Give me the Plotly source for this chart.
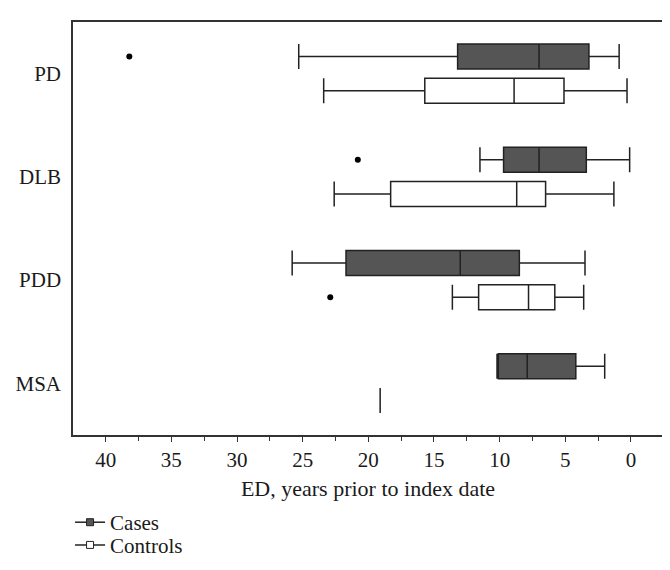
import plotly.graph_objects as go

# ---------------- data ----------------
categories = ["PD", "DLB", "PDD", "MSA"]

# Cases: years prior to index date
cases_min = [0.9, 0.1, 3.5, 2.0]
cases_q1 = [3.2, 3.4, 8.5, 4.2]
cases_median = [7.0, 7.0, 13.0, 7.9]
cases_q3 = [13.2, 9.7, 21.7, 10.1]
cases_max = [25.3, 11.5, 25.8, 10.2]
cases_outlier_cat = ["PD", "DLB"]
cases_outlier_val = [38.2, 20.8]

# Controls
controls_min = [0.3, 1.3, 3.6, 19.1]
controls_q1 = [5.1, 6.5, 5.8, 19.1]
controls_median = [8.9, 8.7, 7.8, 19.1]
controls_q3 = [15.7, 18.3, 11.6, 19.1]
controls_max = [23.4, 22.6, 13.6, 19.1]
controls_outlier_cat = ["PDD"]
controls_outlier_val = [22.9]

x_ticks = [40, 35, 30, 25, 20, 15, 10, 5, 0]

# ---------------- styling ----------------
FONT = "Liberation Serif"
LINE = "#222222"
CASE_FILL = "#555555"
OFFSET = 0.166
BOXW = 0.24

idx = {c: i for i, c in enumerate(categories)}
case_pos = [idx[c] - OFFSET for c in categories]
ctrl_pos = [idx[c] + OFFSET for c in categories]

fig = go.Figure()

fig.add_trace(go.Box(
    name="Cases", orientation="h", y=case_pos,
    lowerfence=cases_min, q1=cases_q1, median=cases_median,
    q3=cases_q3, upperfence=cases_max,
    width=BOXW, whiskerwidth=1, fillcolor=CASE_FILL,
    line=dict(color=LINE, width=1.5), boxpoints=False,
    showlegend=False, hoverinfo="skip",
))
fig.add_trace(go.Box(
    name="Controls", orientation="h", y=ctrl_pos,
    lowerfence=controls_min, q1=controls_q1, median=controls_median,
    q3=controls_q3, upperfence=controls_max,
    width=BOXW, whiskerwidth=1, fillcolor="white",
    line=dict(color=LINE, width=1.5), boxpoints=False,
    showlegend=False, hoverinfo="skip",
))

# outliers
fig.add_trace(go.Scatter(
    x=cases_outlier_val, y=[idx[c] - OFFSET for c in cases_outlier_cat],
    mode="markers", marker=dict(color="black", size=6),
    showlegend=False, hoverinfo="skip",
))
fig.add_trace(go.Scatter(
    x=controls_outlier_val, y=[idx[c] + OFFSET for c in controls_outlier_cat],
    mode="markers", marker=dict(color="black", size=6),
    showlegend=False, hoverinfo="skip",
))

# legend entries (two separate legends so the row spacing can match)
fig.add_trace(go.Scatter(
    x=[None], y=[None], mode="lines+markers", name="Cases", legend="legend",
    line=dict(color=LINE, width=1.5),
    marker=dict(symbol="square", size=7, color=CASE_FILL, line=dict(color=LINE, width=1)),
))
fig.add_trace(go.Scatter(
    x=[None], y=[None], mode="lines+markers", name="Controls", legend="legend2",
    line=dict(color=LINE, width=1.5),
    marker=dict(symbol="square", size=7, color="white", line=dict(color=LINE, width=1)),
))

legend_common = dict(
    x=-0.005, xanchor="left", yanchor="middle",
    font=dict(family=FONT, size=21, color="#1a1a1a"),
    bgcolor="rgba(0,0,0,0)",
)

fig.update_layout(
    width=670, height=570,
    margin=dict(l=65, r=15, t=14, b=133),
    paper_bgcolor="white", plot_bgcolor="white",
    font=dict(family=FONT, size=21, color="#1a1a1a"),
    showlegend=True,
    legend=dict(legend_common, y=-0.212),
    legend2=dict(legend_common, y=-0.267),
    xaxis=dict(
        range=[42.49, -2.44], tickvals=x_ticks, automargin=False,
        ticks="outside", ticklen=5, tickwidth=1.2, tickcolor="#333333",
        tickfont=dict(size=21),
        minor=dict(dtick=2.5, ticks="outside", ticklen=4, tickwidth=1.2, tickcolor="#333333"),
        showline=True, linecolor="#333333", linewidth=1.5, mirror=True,
        showgrid=False, zeroline=False,
        title=dict(text="ED, years prior to index date", font=dict(size=22), standoff=10),
    ),
    yaxis=dict(
        range=[3.5, -0.5], tickvals=list(range(len(categories))), ticktext=categories,
        automargin=False, tickfont=dict(size=21),
        ticks="", showline=True, linecolor="#333333", linewidth=1.5, mirror=True,
        showgrid=False, zeroline=False, ticklabelstandoff=6,
    ),
)

fig.write_html("out.html")
